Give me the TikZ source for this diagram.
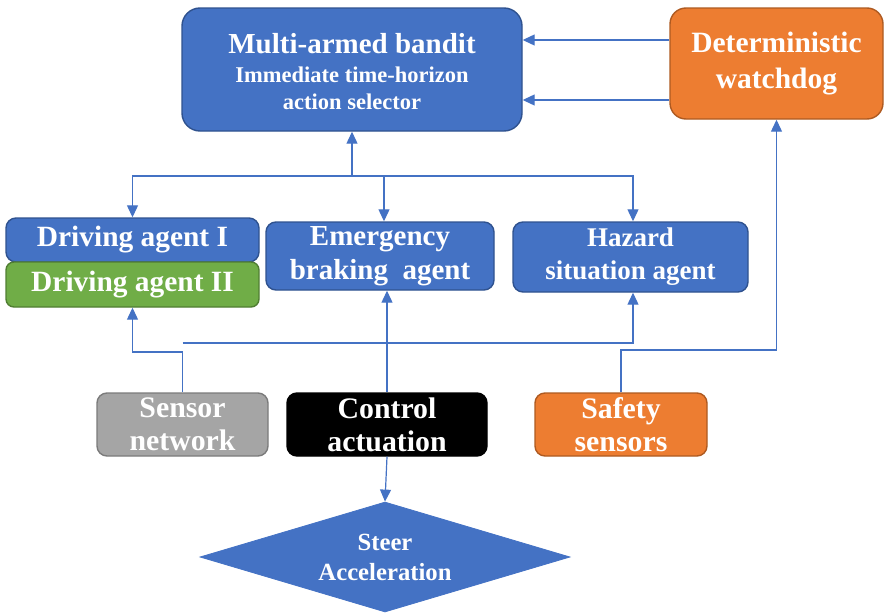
\documentclass[tikz,border=0pt]{standalone}
\usepackage{fontspec}
\setmainfont{Liberation Serif}
\usetikzlibrary{arrows.meta,shapes.geometric,calc}
\definecolor{bblue}{HTML}{4472C4}
\definecolor{bblueD}{HTML}{2F528F}
\definecolor{oorange}{HTML}{ED7D31}
\definecolor{oorangeD}{HTML}{AE5A21}
\definecolor{ggreen}{HTML}{70AD47}
\definecolor{ggreenD}{HTML}{507E32}
\definecolor{ggray}{HTML}{A5A5A5}
\definecolor{ggrayD}{HTML}{7B7B7B}
\newcommand{\fs}[2]{\fontsize{#1}{#2}\selectfont\bfseries}
\tikzset{
  box/.style={rectangle, rounded corners=#1, inner sep=0pt, line width=1.4pt, text=white, align=center},
  bluebox/.style={box=10pt, fill=bblue, draw=bblueD},
  arr/.style={draw=bblue, line width=1.2pt, -{Triangle[length=12pt,width=11pt]}},
}
\begin{document}
\begin{tikzpicture}[x=1pt,y=-1pt]
\useasboundingbox (0,0) rectangle (884,613);
% top
\node[box=18pt, fill=bblue, draw=bblueD, minimum width=340pt, minimum height=123pt] (mab) at (352,69.5) {};
\node[text=white, align=center, font=\fs{29}{34}] (mabt1) at (352,44) {Multi-armed bandit};
\node[text=white, align=center, font=\fs{22.5}{27}] (mabt2) at (352,88) {Immediate time-horizon\\action selector};
\node[box=16pt, fill=oorange, draw=oorangeD, minimum width=213pt, minimum height=111pt, font=\fs{29.5}{36}] (wd) at (776.5,63.5) {Deterministic\\watchdog};
% agents
\node[bluebox, minimum width=253pt, minimum height=44pt, font=\fs{29.4}{34}] (da1) at (132.5,240) {Driving agent I};
\node[box=8pt, fill=ggreen, draw=ggreenD, minimum width=253pt, minimum height=45pt, font=\fs{29.4}{34}] (da2) at (132.5,284.5) {Driving agent II};
\node[bluebox, minimum width=228pt, minimum height=68pt, font=\fs{29}{34}] (eb) at (380,256) {Emergency\\braking\ \ agent};
\node[bluebox, minimum width=235pt, minimum height=70pt, font=\fs{27}{33}] (hz) at (630.5,257) {Hazard\\situation agent};
% bottom
\node[box=10pt, fill=ggray, draw=ggrayD, minimum width=171pt, minimum height=63pt, font=\fs{29.8}{33}] (sn) at (182.5,424.5) {Sensor\\network};
\node[box=10pt, fill=black, draw=black, minimum width=200pt, minimum height=63pt, font=\fs{29.8}{33}] (ca) at (387,424.5) {Control\\actuation};
\node[box=10pt, fill=oorange, draw=oorangeD, minimum width=172pt, minimum height=63pt, font=\fs{29.8}{33}] (ss) at (621,424.5) {Safety\\sensors};
\node[diamond, fill=bblue, draw=bblue, line width=0.8pt, inner sep=0pt, minimum width=370pt, minimum height=110pt] (sa) at (385,557) {};
\node[text=white, align=center, font=\fs{24.7}{30}] (sat) at (sa.center) {Steer\\Acceleration};
% connectors top
\draw[arr] ([yshift=23.5pt]wd.west) -- ([yshift=23.5pt]wd.west -| mab.east);
\draw[arr] ([yshift=-36.5pt]wd.west) -- ([yshift=-36.5pt]wd.west -| mab.east);
\coordinate (hub) at (352,176);
\draw[arr] (hub) -- (mab.south);
\draw[arr] (hub) -| (da1.north);
\draw[arr] (hub) -| ([xshift=4pt]eb.north);
\draw[arr] (hub) -| ([xshift=2.5pt]hz.north);
% connectors bottom
\coordinate (sj) at (182.5,352);
\coordinate (sk) at (182.5,343);
\draw[arr] (sn.north) -- (sj) -| (da2.south);
\draw[arr] (sk) -| ([xshift=2.5pt]hz.south);
\draw[arr] (ca.north) -- (ca.north |- eb.south);
\coordinate (sw) at (776.5,350);
\draw[arr] (ss.north) |- (sw) -- (wd.south);
\draw[arr] (ca.south) -- (sa.north);
\end{tikzpicture}
\end{document}
